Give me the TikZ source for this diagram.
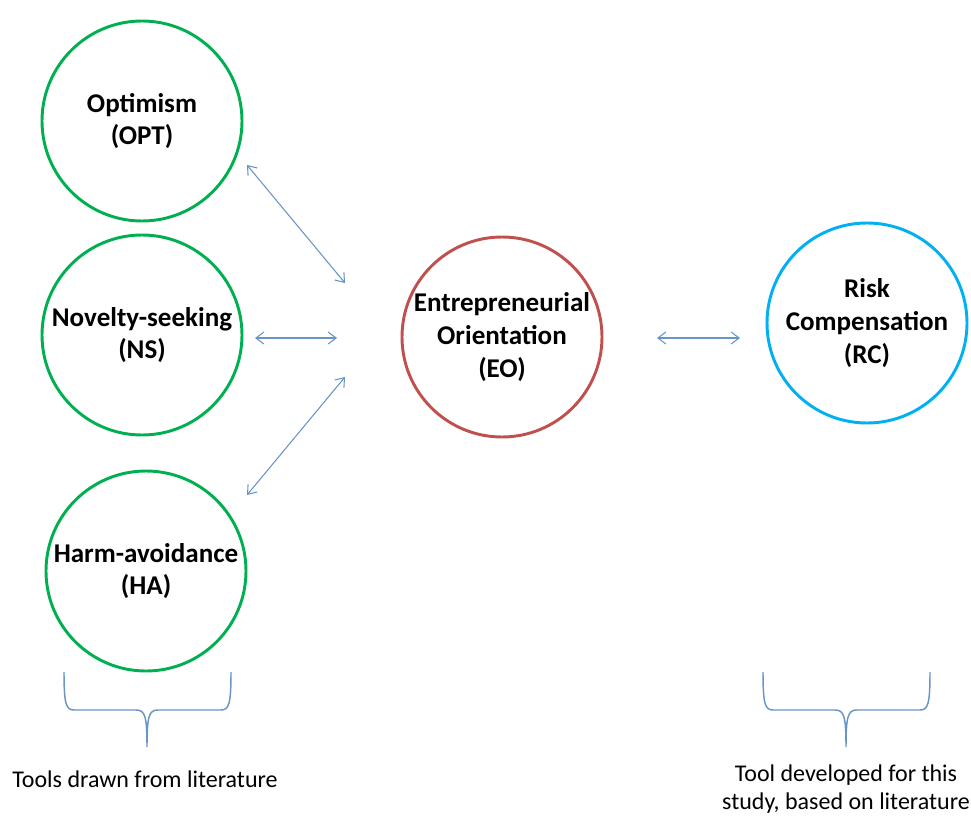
\documentclass[tikz,border=0pt]{standalone}
\usepackage{fontspec}
\setmainfont{Carlito}
\usetikzlibrary{arrows.meta}
\definecolor{litgreen}{HTML}{00B050}
\definecolor{eored}{HTML}{C0504D}
\definecolor{rcblue}{HTML}{00B0F0}
\definecolor{linkblue}{HTML}{4F81BD}
\tikzset{
  construct/.style={circle, draw, line width=2.2pt, minimum size=150pt, inner sep=0pt,
    align=center, font=\fontsize{20.3}{24.6}\selectfont\bfseries},
  link/.style={draw=linkblue!85, line width=0.8pt,
    {Straight Barb[length=6pt,width=9pt]}-{Straight Barb[length=6pt,width=9pt]}},
  brace/.style={draw=linkblue!85, line width=1.1pt},
  caption/.style={align=center, font=\fontsize{18}{21}\selectfont}
}
\begin{document}
\begin{tikzpicture}[x=0.75pt,y=-0.75pt]
\useasboundingbox (0,0) rectangle (971,817);

% personality constructs
\node[construct, draw=litgreen] (opt) at (142,121) {Optimism\\(OPT)};
\node[construct, draw=litgreen] (ns)  at (142,335) {Novelty-seeking\\(NS)};
\node[construct, draw=litgreen] (ha)  at (146,571) {Harm-avoidance\\(HA)};
\node[construct, draw=eored]    (eo)  at (502,337) {Entrepreneurial\\Orientation\\(EO)};
\node[construct, draw=rcblue]   (rc)  at (867,323) {Risk\\Compensation\\(RC)};

% arrow end points
\coordinate (optE) at (247,165);
\coordinate (eoA)  at (345,283);
\coordinate (nsE)  at (255,338);
\coordinate (eoB)  at (337,338);
\coordinate (haE)  at (247,495);
\coordinate (eoC)  at (345,377);
\coordinate (eoE)  at (657,338);
\coordinate (rcW)  at (740,338);

\draw[link] (optE) -- (eoA);
\draw[link] (nsE) -- (eoB);
\draw[link] (haE) -- (eoC);
\draw[link] (eoE) -- (rcW);

% braces
\coordinate (lbL) at (64,672);
\coordinate (lbR) at (231,672);
\coordinate (lbT) at (147,747);
\coordinate (rbL) at (763,672);
\coordinate (rbR) at (930,672);
\coordinate (rbT) at (846,747);

\draw[brace] (lbL) .. controls (64,704) and (66,710) .. (74,710) -- (136,710)
  .. controls (145,710) and (147,716) .. (lbT)
  .. controls (147,716) and (149,710) .. (158,710) -- (221,710)
  .. controls (229,710) and (231,704) .. (lbR);
\draw[brace] (rbL) .. controls (763,704) and (765,710) .. (773,710) -- (835,710)
  .. controls (844,710) and (846,716) .. (rbT)
  .. controls (846,716) and (848,710) .. (857,710) -- (920,710)
  .. controls (928,710) and (930,704) .. (rbR);

\node[caption] (capL) at (145,779) {Tools drawn from literature};
\node[caption] (capR) at (846,789) {Tool developed for this\\study, based on literature};
\end{tikzpicture}
\end{document}
